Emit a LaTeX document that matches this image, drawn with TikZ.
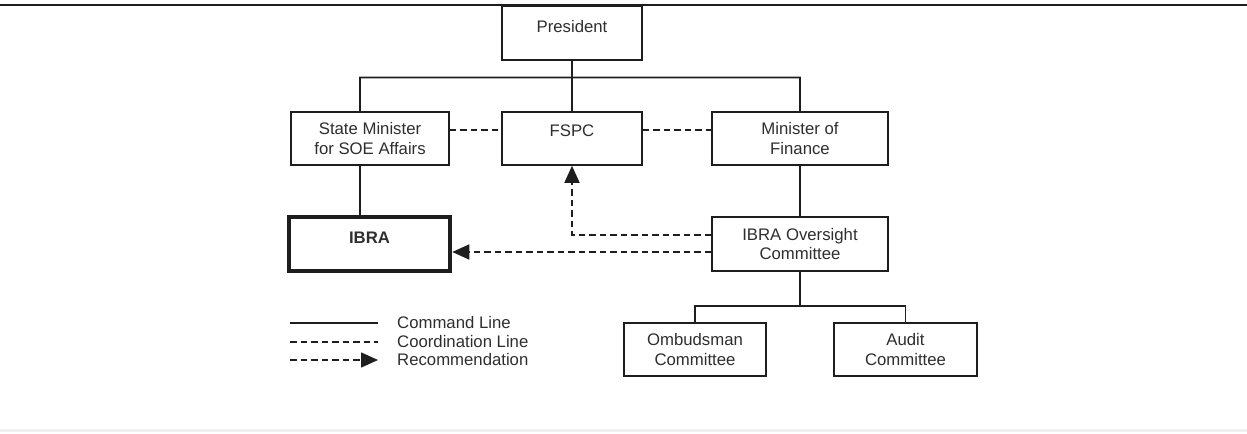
\documentclass[tikz,border=0pt]{standalone}
\usepackage{fontspec}
\setmainfont{Liberation Sans}
\usetikzlibrary{arrows.meta}
\definecolor{ink}{HTML}{1E1E1E}
\definecolor{txt}{HTML}{2E2E2E}
\begin{document}
\begin{tikzpicture}[x=1bp,y=-1bp,
  lbl/.style={font=\fontsize{16.8}{20}\selectfont},
  box/.style={lbl, draw=ink, line width=1.6bp, fill=white, minimum height=53bp,
              inner sep=0pt, align=center, text=txt},
  cmd/.style={draw=ink, line width=1.6bp},
  coordln/.style={draw=ink, line width=1.6bp, dash pattern=on 6.5bp off 4bp},
  rec/.style={coordln, -{Triangle[length=17bp,width=15bp]}},
  legtext/.style={lbl, anchor=base west, text=txt, inner sep=0pt}
]
\useasboundingbox (0,0) rectangle (1247,434);
% page rules
\coordinate (topL) at (0,5);
\coordinate (topR) at (1247,5);
\draw[ink, line width=2bp] (topL) -- (topR);
\coordinate (botL) at (0,431);
\coordinate (botR) at (1247,431);
\draw[black!6, line width=3bp] (botL) -- (botR);

% boxes
\node[box, minimum width=140bp, minimum height=54bp] (pres) at (572,33) {\smash{President}};
\node[box, minimum width=158bp] (sm)   at (370,138.5) {State Minister\\for SOE Affairs};
\node[box, minimum width=140bp] (fspc) at (572,138.5) {\smash{\raisebox{2bp}{FSPC}}};
\node[box, minimum width=176bp] (mof)  at (800,138.5) {Minister of\\Finance};
\node[box, minimum width=161bp, minimum height=54bp, line width=4.5bp, font=\fontsize{16.8}{20}\selectfont\bfseries] (ibra) at (369.5,244) {\smash{\raisebox{0.5bp}{IBRA}}};
\node[box, minimum width=176bp, minimum height=54bp] (ioc) at (800,244) {IBRA Oversight\\Committee};
\node[box, minimum width=142bp] (omb) at (695,349.5) {Ombudsman\\Committee};
\node[box, minimum width=143bp] (aud) at (905.5,349.5) {Audit\\Committee};

% command lines
\coordinate (busL) at (360,77.5);
\coordinate (busR) at (800,77.5);
\draw[cmd] (pres.south) -- (fspc.north);
\draw[cmd] ([xshift=-10bp]sm.north) -- (busL) -- (busR) -- (mof.north);
\draw[cmd] ([xshift=-10bp]sm.south) -- ([xshift=-10bp]sm.south |- ibra.north);
\draw[cmd] (mof.south) -- (ioc.north);
\coordinate (sub) at (800,306);
\draw[cmd] (ioc.south) -- (sub);
\draw[cmd] (omb.north) |- (sub) -| (aud.north);

% coordination lines
\draw[coordln] ([yshift=8.5bp]sm.east) -- ([yshift=8.5bp]fspc.west);
\draw[coordln] ([yshift=8.5bp]fspc.east) -- ([yshift=8.5bp]mof.west);

% recommendations
\draw[rec] ([yshift=9bp]ioc.west) -| (fspc.south);
\draw[rec] ([yshift=-8bp]ioc.west) -- ([yshift=-8bp]ibra.east);

% legend
\coordinate (la1) at (290,323); \coordinate (lb1) at (378,323);
\coordinate (la2) at (290,342); \coordinate (lb2) at (378,342);
\coordinate (la3) at (290,360); \coordinate (lb3) at (378,360);
\draw[cmd] (la1) -- (lb1);
\draw[coordln] (la2) -- (lb2);
\draw[rec] (la3) -- (lb3);
\node[legtext] (t1) at (397,329) {Command Line};
\node[legtext] (t2) at (397,348) {Coordination Line};
\node[legtext] (t3) at (397,366) {Recommendation};
\end{tikzpicture}
\end{document}
